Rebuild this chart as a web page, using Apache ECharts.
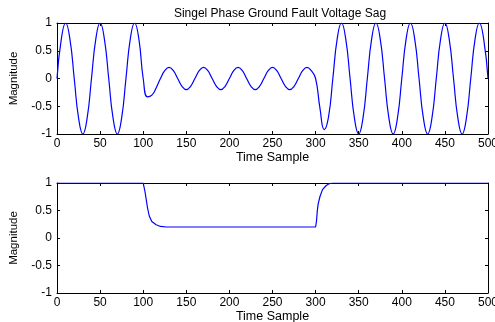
<!DOCTYPE html>
<html><head><meta charset="utf-8">
<script src="https://cdn.jsdelivr.net/npm/echarts@6/dist/echarts.min.js"></script>
<style>html,body{margin:0;padding:0;background:#fff}#c{width:495px;height:322px}</style>
</head><body><div id="c"></div>
<script>
// Top plot: voltage waveform samples
const waveX = [0,5,10,15,20,25,30,35,40,45,50,55,60,65,70,75,80,85,90,95,100,
  105,110,115,120,125,130,135,140,145,150,155,160,165,170,175,180,185,190,195,200,
  205,210,215,220,225,230,235,240,245,250,255,260,265,270,275,280,285,290,295,300,
  305,310,315,320,325,330,335,340,345,350,355,360,365,370,375,380,385,390,395,400,
  405,410,415,420,425,430,435,440,445,450,455,460,465,470,475,480,485,490,495,500];
const waveY = [0,0.71,1,0.71,0,-0.71,-1,-0.71,0,0.71,1,0.71,0,-0.71,-1,-0.71,0,0.71,1,0.71,0,
  -0.33,-0.3,-0.17,0,0.14,0.2,0.14,0,-0.14,-0.2,-0.14,0,0.14,0.2,0.14,0,-0.14,-0.2,-0.14,0,
  0.14,0.2,0.14,0,-0.14,-0.2,-0.14,0,0.14,0.2,0.14,0,-0.14,-0.2,-0.14,0,0.14,0.2,0.14,0,
  -0.53,-0.92,-0.69,0,0.71,1,0.71,0,-0.71,-1,-0.71,0,0.71,1,0.71,0,-0.71,-1,-0.71,0,
  0.71,1,0.71,0,-0.71,-1,-0.71,0,0.71,1,0.71,0,-0.71,-1,-0.71,0,0.71,1,0.71,0];
// Bottom plot: envelope
const envX = [0,100,102,105,107,110,115,120,127,300,301,302,303,305,308,312,316,320,500];
const envY = [1,1,0.85,0.55,0.4,0.3,0.24,0.21,0.2,0.2,0.3,0.5,0.62,0.75,0.88,0.95,0.99,1,1];
const xTicks = [0,50,100,150,200,250,300,350,400,450,500];
const yTicks = [-1,-0.5,0,0.5,1];

const font = 'Liberation Sans, Arial, sans-serif';
const black = '#000';
function pair(xs, ys){ return xs.map((x,i)=>[x, ys[i]]); }
function xAx(grid, show){
  return {type:'value', gridIndex:grid, min:xTicks[0], max:xTicks[xTicks.length-1], interval:50,
    position: show?'bottom':'top',
    name: show?'Time Sample':'', nameLocation:'middle', nameGap:14,
    nameTextStyle:{color:black, fontFamily:font, fontSize:12.5},
    axisLine:{show:true, onZero:false, lineStyle:{color:black, width:1}},
    axisTick:{show:true, inside:true, length:3, lineStyle:{color:black}},
    axisLabel:{show:show, color:black, fontFamily:font, fontSize:12, margin:4, hideOverlap:false},
    splitLine:{show:false}};
}
function yAx(grid, show){
  return {type:'value', gridIndex:grid, min:yTicks[0], max:yTicks[yTicks.length-1], interval:0.5,
    position: show?'left':'right',
    name: show?'Magnitude':'', nameLocation:'middle', nameGap:37, nameRotate:90,
    nameTextStyle:{color:black, fontFamily:font, fontSize:11.5},
    axisLine:{show:true, onZero:false, lineStyle:{color:black, width:1}},
    axisTick:{show:true, inside:true, length:3, lineStyle:{color:black}},
    axisLabel:{show:show, color:black, fontFamily:font, fontSize:12, margin:5,
      formatter:v=>String(v)},
    splitLine:{show:false}};
}
const chart = echarts.init(document.getElementById('c'), null, {renderer:'canvas'});
chart.setOption({
  animation:false,
  backgroundColor:'#fff',
  title:{text:'Singel Phase Ground Fault Voltage Sag', left:275, top:3, textAlign:'center',
    textStyle:{fontFamily:font, fontSize:12, fontWeight:'normal', color:black}},
  grid:[{left:57, top:23, width:431, height:111, containLabel:false, outerBoundsMode:'none'},
        {left:57, top:183, width:431, height:110, containLabel:false, outerBoundsMode:'none'}],
  xAxis:[xAx(0,true), xAx(0,false), xAx(1,true), xAx(1,false)],
  yAxis:[yAx(0,true), yAx(0,false), yAx(1,true), yAx(1,false)],
  series:[
    {type:'line', xAxisIndex:0, yAxisIndex:0, data:pair(waveX,waveY), smooth:0.5, showSymbol:false,
      lineStyle:{color:'#0000ff', width:1.2}},
    {type:'line', xAxisIndex:2, yAxisIndex:2, data:pair(envX,envY), showSymbol:false,
      lineStyle:{color:'#0000ff', width:1.2}}
  ]
});
</script></body></html>
